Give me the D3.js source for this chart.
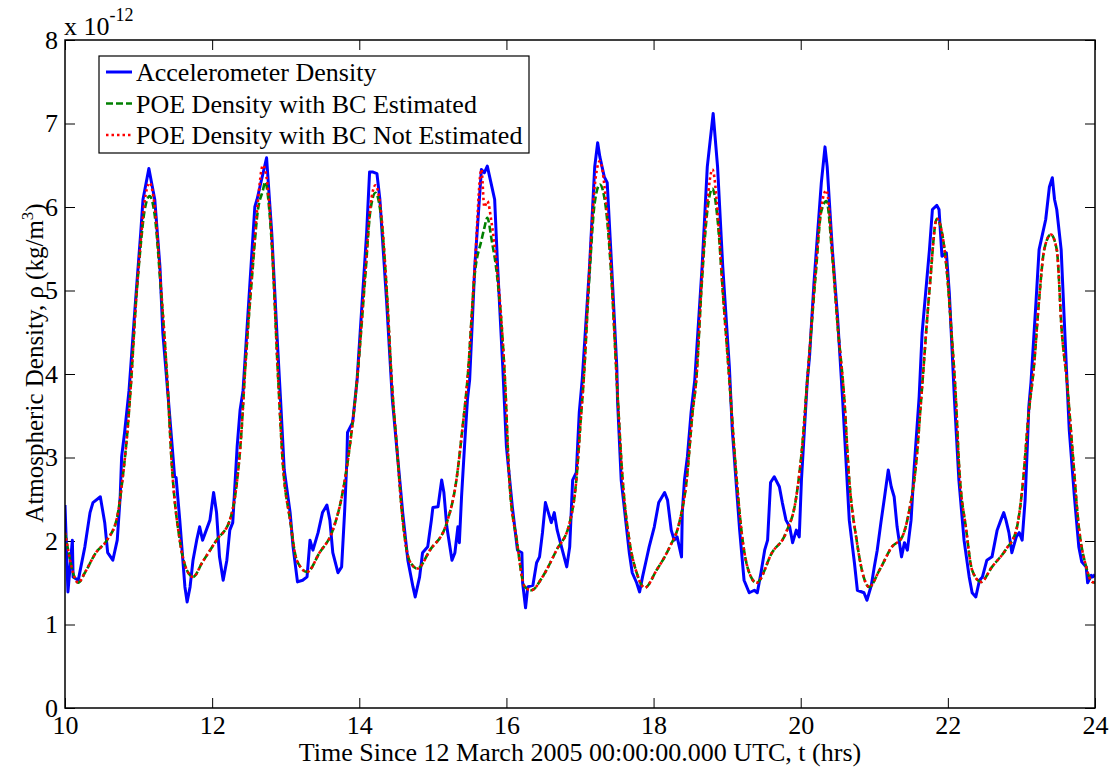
<!DOCTYPE html>
<html>
<head>
<meta charset="utf-8">
<script src="https://cdn.jsdelivr.net/npm/d3@7"></script>
<style>
  body { margin: 0; background: #fff; }
  text { font-family: "Liberation Serif", "Times New Roman", serif; fill: #000; }
</style>
</head>
<body>
<script>
const width = 1113;
const height = 767;
const margin = { top: 40, right: 18, bottom: 59, left: 65 };

// accelerometer density, [t (hrs), rho (1e-12 kg/m^3)]
const accelSamples = [
  [10.00, 2.43], [10.04, 1.39], [10.10, 2.01], [10.11, 1.57], [10.18, 1.53], [10.27, 1.93],
  [10.34, 2.34], [10.38, 2.46], [10.48, 2.53], [10.54, 2.22], [10.58, 1.86], [10.65, 1.77],
  [10.71, 2.01], [10.75, 2.53], [10.77, 3.01], [10.81, 3.30], [10.87, 3.80], [10.96, 4.89],
  [11.03, 5.70], [11.06, 6.09], [11.14, 6.46], [11.22, 6.09], [11.29, 5.29], [11.33, 4.49],
  [11.40, 3.75], [11.49, 2.77], [11.51, 2.76], [11.56, 2.25], [11.63, 1.45], [11.66, 1.27],
  [11.70, 1.45], [11.74, 1.77], [11.79, 2.01], [11.83, 2.17], [11.87, 2.01], [11.97, 2.25],
  [12.02, 2.58], [12.06, 2.34], [12.10, 1.81], [12.15, 1.53], [12.20, 1.77], [12.24, 2.13],
  [12.28, 2.22], [12.34, 3.13], [12.38, 3.57], [12.42, 3.80], [12.58, 6.00], [12.61, 6.09],
  [12.74, 6.59], [12.81, 5.69], [12.88, 4.49], [12.93, 3.69], [12.98, 2.85], [13.06, 2.34],
  [13.10, 1.93], [13.16, 1.51], [13.23, 1.53], [13.29, 1.57], [13.33, 2.01], [13.37, 1.89],
  [13.44, 2.10], [13.50, 2.34], [13.56, 2.43], [13.60, 2.25], [13.64, 1.86], [13.71, 1.62],
  [13.76, 1.69], [13.80, 2.34], [13.83, 2.94], [13.84, 3.30], [13.91, 3.42], [13.97, 3.93],
  [14.10, 5.69], [14.14, 6.42], [14.18, 6.42], [14.24, 6.40], [14.28, 6.09], [14.37, 4.89],
  [14.45, 3.69], [14.55, 2.73], [14.59, 2.34], [14.66, 1.77], [14.73, 1.45], [14.76, 1.33],
  [14.82, 1.57], [14.86, 1.86], [14.93, 1.93], [14.98, 2.25], [15.00, 2.40], [15.07, 2.41],
  [15.12, 2.73], [15.15, 2.58], [15.19, 2.17], [15.26, 1.77], [15.30, 1.86], [15.34, 2.17],
  [15.36, 1.98], [15.39, 2.53], [15.43, 3.13], [15.47, 3.69], [15.50, 3.93], [15.57, 5.29],
  [15.66, 6.45], [15.70, 6.41], [15.74, 6.49], [15.80, 6.25], [15.84, 6.09], [15.88, 5.29],
  [15.95, 4.09], [16.00, 3.13], [16.08, 2.41], [16.15, 1.89], [16.21, 1.86], [16.22, 1.50],
  [16.26, 1.20], [16.29, 1.45], [16.36, 1.47], [16.41, 1.74], [16.45, 1.81], [16.49, 2.10],
  [16.53, 2.46], [16.56, 2.37], [16.61, 2.22], [16.65, 2.34], [16.69, 2.13], [16.76, 1.89],
  [16.82, 1.69], [16.86, 1.93], [16.90, 2.73], [16.95, 2.82], [16.99, 3.54], [17.03, 3.93],
  [17.13, 5.29], [17.20, 6.48], [17.24, 6.77], [17.27, 6.60], [17.33, 6.36], [17.37, 6.29],
  [17.43, 5.29], [17.50, 4.09], [17.51, 3.69], [17.56, 2.73], [17.67, 1.86], [17.71, 1.62],
  [17.77, 1.50], [17.81, 1.39], [17.85, 1.57], [17.90, 1.77], [17.94, 1.93], [18.01, 2.17],
  [18.07, 2.46], [18.15, 2.58], [18.19, 2.49], [18.24, 2.13], [18.28, 2.01], [18.32, 2.05],
  [18.38, 1.81], [18.39, 2.34], [18.42, 2.73], [18.46, 3.01], [18.51, 3.54], [18.56, 3.93],
  [18.66, 5.29], [18.73, 6.48], [18.81, 7.12], [18.87, 6.48], [18.94, 5.29], [19.03, 4.09],
  [19.07, 3.33], [19.17, 2.13], [19.23, 1.53], [19.30, 1.38], [19.37, 1.41], [19.41, 1.38],
  [19.46, 1.62], [19.51, 1.89], [19.55, 2.01], [19.59, 2.70], [19.64, 2.77], [19.71, 2.65],
  [19.75, 2.46], [19.80, 2.25], [19.85, 2.17], [19.89, 1.98], [19.94, 2.13], [19.98, 2.05],
  [20.01, 2.73], [20.05, 3.33], [20.09, 3.93], [20.12, 4.21], [20.18, 5.09], [20.28, 6.29],
  [20.33, 6.72], [20.36, 6.48], [20.43, 5.49], [20.50, 4.69], [20.57, 3.69], [20.66, 2.25],
  [20.73, 1.74], [20.77, 1.41], [20.86, 1.38], [20.90, 1.29], [20.96, 1.47], [21.00, 1.69],
  [21.04, 1.89], [21.09, 2.22], [21.14, 2.53], [21.19, 2.85], [21.23, 2.65], [21.27, 2.53],
  [21.31, 2.17], [21.37, 1.81], [21.41, 1.98], [21.45, 1.89], [21.50, 2.25], [21.54, 2.85],
  [21.61, 3.73], [21.65, 4.49], [21.75, 5.49], [21.79, 5.97], [21.85, 6.02], [21.88, 5.97],
  [21.92, 5.41], [21.98, 5.45], [22.02, 4.97], [22.09, 3.69], [22.15, 2.73], [22.22, 2.01],
  [22.29, 1.57], [22.33, 1.38], [22.38, 1.33], [22.43, 1.53], [22.47, 1.57], [22.53, 1.77],
  [22.60, 1.81], [22.67, 2.13], [22.72, 2.25], [22.76, 2.34], [22.79, 2.25], [22.83, 2.10],
  [22.87, 1.86], [22.93, 2.05], [22.97, 2.10], [23.01, 2.01], [23.05, 2.49], [23.08, 3.13],
  [23.10, 3.60], [23.13, 3.90], [23.20, 4.89], [23.24, 5.49], [23.33, 5.85], [23.38, 6.24],
  [23.42, 6.35], [23.45, 6.09], [23.48, 5.97], [23.54, 5.49], [23.58, 4.69], [23.62, 3.90],
  [23.65, 3.33], [23.72, 2.53], [23.78, 1.93], [23.82, 1.75], [23.88, 1.69], [23.90, 1.50],
  [23.95, 1.59], [23.97, 1.57], [24.00, 1.60]
];

// POE densities, [t (hrs), BC estimated, BC not estimated]
const poeSamples = [
  [10.00, 2.10, 2.10], [10.18, 1.50, 1.50], [10.27, 1.62, 1.62], [10.42, 1.86, 1.86],
  [10.57, 2.01, 2.01], [10.71, 2.29, 2.29], [10.78, 2.73, 2.73], [10.85, 3.33, 3.33],
  [10.90, 3.93, 3.93], [10.96, 4.80, 4.80], [11.03, 5.55, 5.60], [11.08, 5.95, 6.05],
  [11.15, 6.13, 6.29], [11.22, 5.90, 6.00], [11.30, 5.05, 5.10], [11.39, 3.93, 3.93],
  [11.45, 2.94, 2.94], [11.56, 2.01, 2.01], [11.70, 1.59, 1.59], [11.74, 1.57, 1.57],
  [11.87, 1.75, 1.75], [12.06, 2.01, 2.01], [12.24, 2.25, 2.25], [12.34, 2.73, 2.73],
  [12.40, 3.33, 3.33], [12.44, 3.93, 3.93], [12.55, 5.25, 5.30], [12.62, 5.95, 6.05],
  [12.69, 6.20, 6.50], [12.72, 6.30, 6.45], [12.80, 5.70, 5.75], [12.90, 3.90, 3.90],
  [12.96, 2.94, 2.94], [13.06, 2.25, 2.25], [13.15, 1.77, 1.77], [13.29, 1.63, 1.63],
  [13.46, 1.86, 1.86], [13.64, 2.13, 2.13], [13.78, 2.61, 2.61], [13.87, 3.13, 3.13],
  [13.97, 3.93, 3.93], [14.08, 5.15, 5.20], [14.15, 5.95, 6.00], [14.22, 6.17, 6.26],
  [14.30, 5.85, 5.90], [14.38, 4.90, 4.90], [14.44, 3.93, 3.93], [14.51, 3.13, 3.13],
  [14.59, 2.25, 2.25], [14.68, 1.77, 1.77], [14.79, 1.67, 1.67], [14.96, 1.89, 1.89],
  [15.19, 2.22, 2.22], [15.32, 2.73, 2.73], [15.40, 3.33, 3.33], [15.47, 3.93, 3.93],
  [15.57, 5.20, 5.29], [15.66, 5.60, 6.45], [15.70, 5.75, 6.00], [15.74, 5.87, 6.07],
  [15.80, 5.60, 5.80], [15.87, 5.20, 5.29], [15.98, 3.93, 3.93], [16.04, 2.73, 2.73],
  [16.14, 2.01, 2.01], [16.25, 1.45, 1.45], [16.34, 1.41, 1.41], [16.49, 1.57, 1.57],
  [16.68, 1.89, 1.89], [16.86, 2.22, 2.22], [16.95, 2.73, 2.73], [17.01, 3.45, 3.45],
  [17.05, 3.93, 3.93], [17.13, 5.20, 5.29], [17.20, 6.05, 6.25], [17.27, 6.27, 6.55],
  [17.35, 6.00, 6.10], [17.42, 5.25, 5.30], [17.50, 3.93, 3.93], [17.58, 2.73, 2.73],
  [17.67, 2.01, 2.01], [17.77, 1.62, 1.62], [17.88, 1.44, 1.44], [18.04, 1.65, 1.65],
  [18.22, 1.93, 1.93], [18.35, 2.22, 2.22], [18.45, 2.73, 2.73], [18.53, 3.54, 3.54],
  [18.58, 3.93, 3.93], [18.66, 5.15, 5.20], [18.73, 5.95, 6.05], [18.80, 6.22, 6.45],
  [18.87, 5.85, 5.95], [18.94, 5.00, 5.00], [19.03, 3.93, 3.93], [19.13, 2.73, 2.73],
  [19.21, 2.01, 2.01], [19.30, 1.62, 1.62], [19.40, 1.50, 1.50], [19.61, 1.86, 1.86],
  [19.80, 2.10, 2.10], [19.94, 2.53, 2.53], [20.02, 3.13, 3.13], [20.09, 3.93, 3.93],
  [20.20, 5.15, 5.20], [20.28, 5.95, 6.00], [20.35, 6.07, 6.20], [20.43, 5.40, 5.45],
  [20.50, 4.60, 4.60], [20.59, 3.73, 3.73], [20.66, 2.73, 2.73], [20.76, 2.01, 2.01],
  [20.84, 1.62, 1.62], [20.93, 1.45, 1.45], [21.07, 1.65, 1.65], [21.24, 1.93, 1.93],
  [21.38, 2.05, 2.05], [21.47, 2.34, 2.34], [21.57, 2.94, 2.94], [21.64, 3.73, 3.73],
  [21.75, 5.00, 5.00], [21.85, 5.86, 5.86], [21.98, 5.29, 5.29], [22.05, 4.49, 4.49],
  [22.11, 3.69, 3.69], [22.15, 2.94, 2.94], [22.25, 2.13, 2.13], [22.33, 1.65, 1.65],
  [22.45, 1.51, 1.51], [22.60, 1.69, 1.69], [22.79, 1.90, 1.90], [22.93, 2.13, 2.13],
  [23.01, 2.61, 2.61], [23.10, 3.54, 3.54], [23.17, 4.09, 4.09], [23.24, 4.89, 4.89],
  [23.31, 5.49, 5.49], [23.40, 5.67, 5.67], [23.48, 5.49, 5.49], [23.55, 4.49, 4.49],
  [23.62, 3.90, 3.90], [23.69, 3.13, 3.13], [23.78, 2.17, 2.17], [23.88, 1.69, 1.69],
  [23.96, 1.51, 1.51], [24.00, 1.50, 1.50]
];

const xTicks = [10, 12, 14, 16, 18, 20, 22, 24];
const yTicks = [0, 1, 2, 3, 4, 5, 6, 7, 8];
const legendLabels = [
  "Accelerometer Density",
  "POE Density with BC Estimated",
  "POE Density with BC Not Estimated"
];

const svg = d3.select("body")
  .append("svg")
  .attr("width", width)
  .attr("height", height);

const x = d3.scaleLinear().domain([10, 24]).range([margin.left, width - margin.right]);
const y = d3.scaleLinear().domain([0, 8]).range([height - margin.bottom, margin.top]);

svg.append("clipPath").attr("id", "plot")
  .append("rect")
  .attr("x", margin.left).attr("y", margin.top)
  .attr("width", x(24) - x(10)).attr("height", y(0) - y(8));

// axes, ticks pointing inward on all four sides
svg.append("g")
  .attr("transform", `translate(0,${y(0)})`)
  .call(d3.axisBottom(x).tickValues(xTicks).tickSize(-10).tickPadding(8).tickFormat(d3.format("d")));
svg.append("g")
  .attr("transform", `translate(0,${y(8)})`)
  .call(d3.axisTop(x).tickValues(xTicks).tickSize(-10).tickFormat(""));
svg.append("g")
  .attr("transform", `translate(${x(10)},0)`)
  .call(d3.axisLeft(y).tickValues(yTicks).tickSize(-10).tickPadding(7).tickFormat(d3.format("d")));
svg.append("g")
  .attr("transform", `translate(${x(24)},0)`)
  .call(d3.axisRight(y).tickValues(yTicks).tickSize(-10).tickFormat(""));

svg.selectAll(".domain").remove();
svg.selectAll(".tick line").attr("stroke", "#000").attr("stroke-width", 1);
svg.selectAll(".tick text").style("font-size", "26px").attr("fill", "#000");

const accelLine = d3.line()
  .x(d => x(d[0]))
  .y(d => y(d[1]));

const estLine = d3.line()
  .curve(d3.curveMonotoneX)
  .x(d => x(d[0]))
  .y(d => y(d[1]));

const notEstLine = d3.line()
  .curve(d3.curveMonotoneX)
  .x(d => x(d[0]))
  .y(d => y(d[2]));

const plot = svg.append("g").attr("clip-path", "url(#plot)");

plot.append("path")
  .datum(accelSamples)
  .attr("d", accelLine)
  .attr("fill", "none")
  .attr("stroke", "#0000ff")
  .attr("stroke-width", 3)
  .attr("stroke-linejoin", "round");

plot.append("path")
  .datum(poeSamples)
  .attr("d", estLine)
  .attr("fill", "none")
  .attr("stroke", "#008000")
  .attr("stroke-width", 2.6)
  .attr("stroke-dasharray", "7,3");

plot.append("path")
  .datum(poeSamples)
  .attr("d", notEstLine)
  .attr("fill", "none")
  .attr("stroke", "#ff0000")
  .attr("stroke-width", 2.6)
  .attr("stroke-dasharray", "2.5,3");

// box
svg.append("rect")
  .attr("x", x(10)).attr("y", y(8))
  .attr("width", x(24) - x(10)).attr("height", y(0) - y(8))
  .attr("fill", "none")
  .attr("stroke", "#000")
  .attr("stroke-width", 1.5);

// exponent label
const expo = svg.append("text")
  .attr("x", x(10) - 1)
  .attr("y", 35)
  .style("font-size", "26px");
expo.append("tspan").text("x 10");
expo.append("tspan").attr("dy", -14).style("font-size", "18px").text("-12");

// axis labels
svg.append("text")
  .attr("x", (x(10) + x(24)) / 2)
  .attr("y", 761)
  .attr("text-anchor", "middle")
  .style("font-size", "26px")
  .text("Time Since 12 March 2005 00:00:00.000 UTC, t (hrs)");

const ylab = svg.append("text")
  .attr("transform", "translate(43,363) rotate(-90)")
  .attr("text-anchor", "middle")
  .style("font-size", "25px");
ylab.append("tspan").text("Atmospheric Density, ρ (kg/m");
ylab.append("tspan").attr("dy", -10).style("font-size", "17px").text("3");
ylab.append("tspan").attr("dy", 10).text(")");

// legend
const legend = svg.append("g");
legend.append("rect")
  .attr("x", 99).attr("y", 56)
  .attr("width", 430).attr("height", 97)
  .attr("fill", "#fff")
  .attr("stroke", "#000")
  .attr("stroke-width", 1.2);

const legendStyles = [
  { color: "#0000ff", dash: null, w: 3 },
  { color: "#008000", dash: "7,3", w: 2.6 },
  { color: "#ff0000", dash: "2.5,3", w: 2.6 }
];

legendLabels.forEach((label, i) => {
  const cy = 72 + i * 31.5;
  legend.append("line")
    .attr("x1", 106).attr("x2", 132)
    .attr("y1", cy).attr("y2", cy)
    .attr("stroke", legendStyles[i].color)
    .attr("stroke-width", legendStyles[i].w)
    .attr("stroke-dasharray", legendStyles[i].dash);
  legend.append("text")
    .attr("x", 136)
    .attr("y", cy + 9)
    .style("font-size", "26px")
    .text(label);
});
</script>
</body>
</html>
